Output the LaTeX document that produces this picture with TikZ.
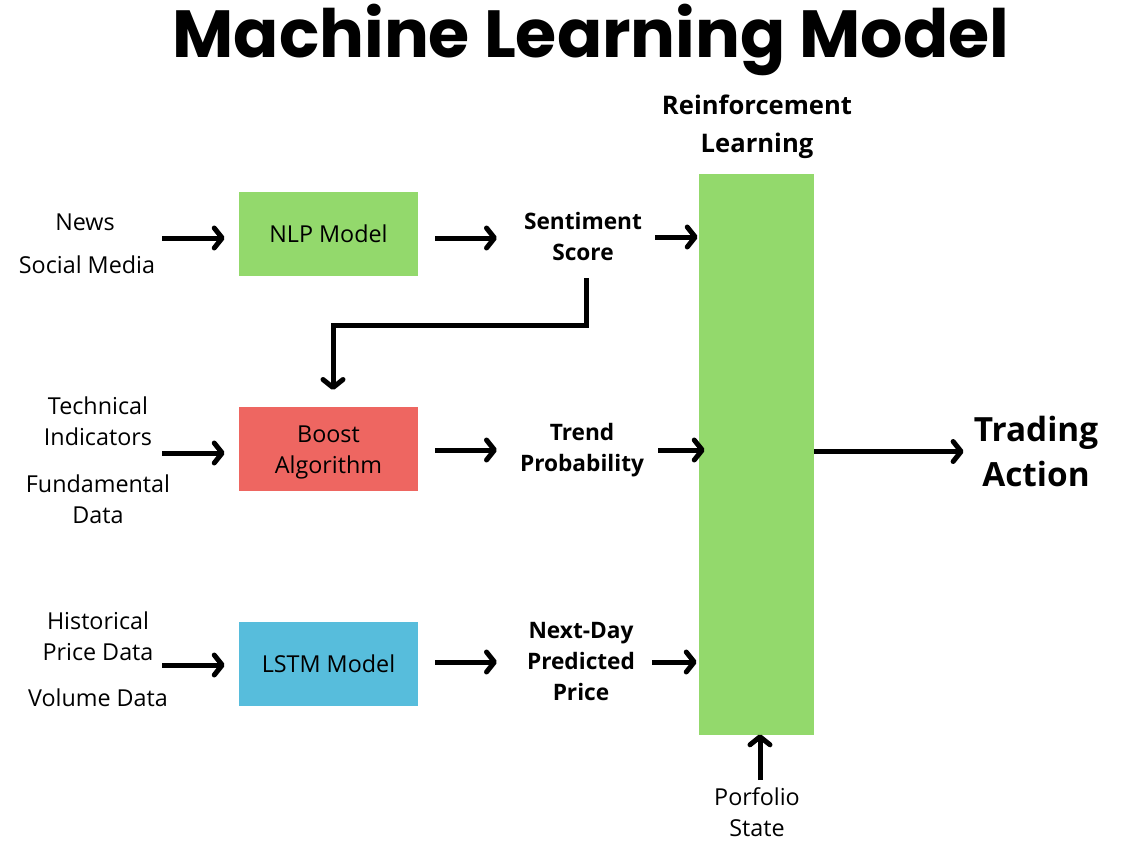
\documentclass[tikz,border=0pt]{standalone}
\usepackage{fontspec}
\setmainfont{Open Sans}
\newfontfamily\popb{Poppins}
\usetikzlibrary{arrows.meta}
\definecolor{mlgreen}{HTML}{93D96C}
\definecolor{mlred}{HTML}{EE6661}
\definecolor{mlblue}{HTML}{57BDDC}
\tikzset{
  box/.style={draw=none, minimum width=179*0.75pt, minimum height=84*0.75pt, inner sep=0pt, font=\fontsize{17.5}{23.25}\selectfont},
  plain/.style={align=center, inner sep=0pt, font=\fontsize{17.5}{23.25}\selectfont},
  boldlbl/.style={align=center, inner sep=0pt, font=\bfseries\fontsize{17}{23.25}\selectfont},
  arr/.style={line width=3.75pt, -{Straight Barb[round,length=6pt,width=15pt]}},
  elbow/.style={line width=3.75pt, -{Straight Barb[round,length=6pt,width=15pt]}}
}
\begin{document}
\begin{tikzpicture}[x=0.75pt,y=-0.75pt]
\useasboundingbox (0,0) rectangle (1134,854);
% title
\node[inner sep=0pt, font=\popb\bfseries\fontsize{50}{60}\selectfont] (title) at (591,40) {Machine Learning Model};
% boxes
\node[box, fill=mlgreen] (nlp) at (328.5,234) {NLP Model};
\node[box, fill=mlred] (boost) at (328.5,449) {};
\node[plain] (boosttxt) at (328.5,452) {Boost\\Algorithm};
\node[box, fill=mlblue] (lstm) at (328.5,664) {LSTM Model};
\node[draw=none, fill=mlgreen, minimum width=115*0.75pt, minimum height=561*0.75pt, inner sep=0pt] (rl) at (756.5,454.5) {};
\node[boldlbl, font=\bfseries\fontsize{19.2}{28.5}\selectfont] (rllbl) at (757,127) {Reinforcement\\Learning};
% inputs
\node[plain] (news) at (85,222) {News};
\node[plain] (social) at (87,265) {Social Media};
\node[plain] (tech) at (98,421) {Technical\\Indicators};
\node[plain] (fund) at (98,499) {Fundamental\\Data};
\node[plain] (hist) at (98,636) {Historical\\Price Data};
\node[plain] (vol) at (98,698) {Volume Data};
% outputs of models
\node[boldlbl] (sent) at (583,236.5) {Sentiment\\Score};
\node[boldlbl] (trend) at (582,450.5) {Trend\\Probability};
\node[boldlbl] (next) at (581,662) {Next-Day\\Predicted\\Price};
\node[align=center, inner sep=0pt, font=\bfseries\fontsize{25}{34}\selectfont] (trade) at (1036,451.5) {Trading\\Action};
\node[plain] (port) at (757,812) {Porfolio\\State};
% coordinates
\coordinate (i1) at (162,238);
\coordinate (i2) at (162,453);
\coordinate (i3) at (162,665);
\coordinate (m1) at (497,238);
\coordinate (m2) at (497,450);
\coordinate (m3) at (497,662);
\coordinate (r1) at (655,237);
\coordinate (r2) at (658,450);
\coordinate (r3) at (652,662);
\coordinate (pstart) at (760,780);
\coordinate (e1) at (586,278);
\coordinate (e2) at (586,325);
\coordinate (e3) at (333,325);
\coordinate (e4) at (333,390);
% arrows
\draw[arr, shorten >=14*0.75pt] (i1) -- (i1 -| nlp.west);
\draw[arr, shorten >=14*0.75pt] (i2) -- (i2 -| boost.west);
\draw[arr, shorten >=14*0.75pt] (i3) -- (i3 -| lstm.west);
\draw[arr, shorten <=17*0.75pt] (m1 -| nlp.east) -- (m1);
\draw[arr, shorten <=17*0.75pt] (m2 -| boost.east) -- (m2);
\draw[arr, shorten <=17*0.75pt] (m3 -| lstm.east) -- (m3);
\draw[arr, shorten >=1*0.75pt] (r1) -- (r1 -| rl.west);
\draw[arr, shorten >=-6*0.75pt] (r2) -- (r2 -| rl.west);
\draw[arr, shorten >=2*0.75pt] (r3) -- (r3 -| rl.west);
\draw[arr, shorten >=10*0.75pt] (rl.east |- trade.west) -- (trade.west);
\draw[arr, shorten >=-1*0.75pt] (pstart) -- (pstart |- rl.south);
\draw[elbow, line join=miter] (e1) -- (e2) -- (e3) -- (e4);
\end{tikzpicture}
\end{document}
